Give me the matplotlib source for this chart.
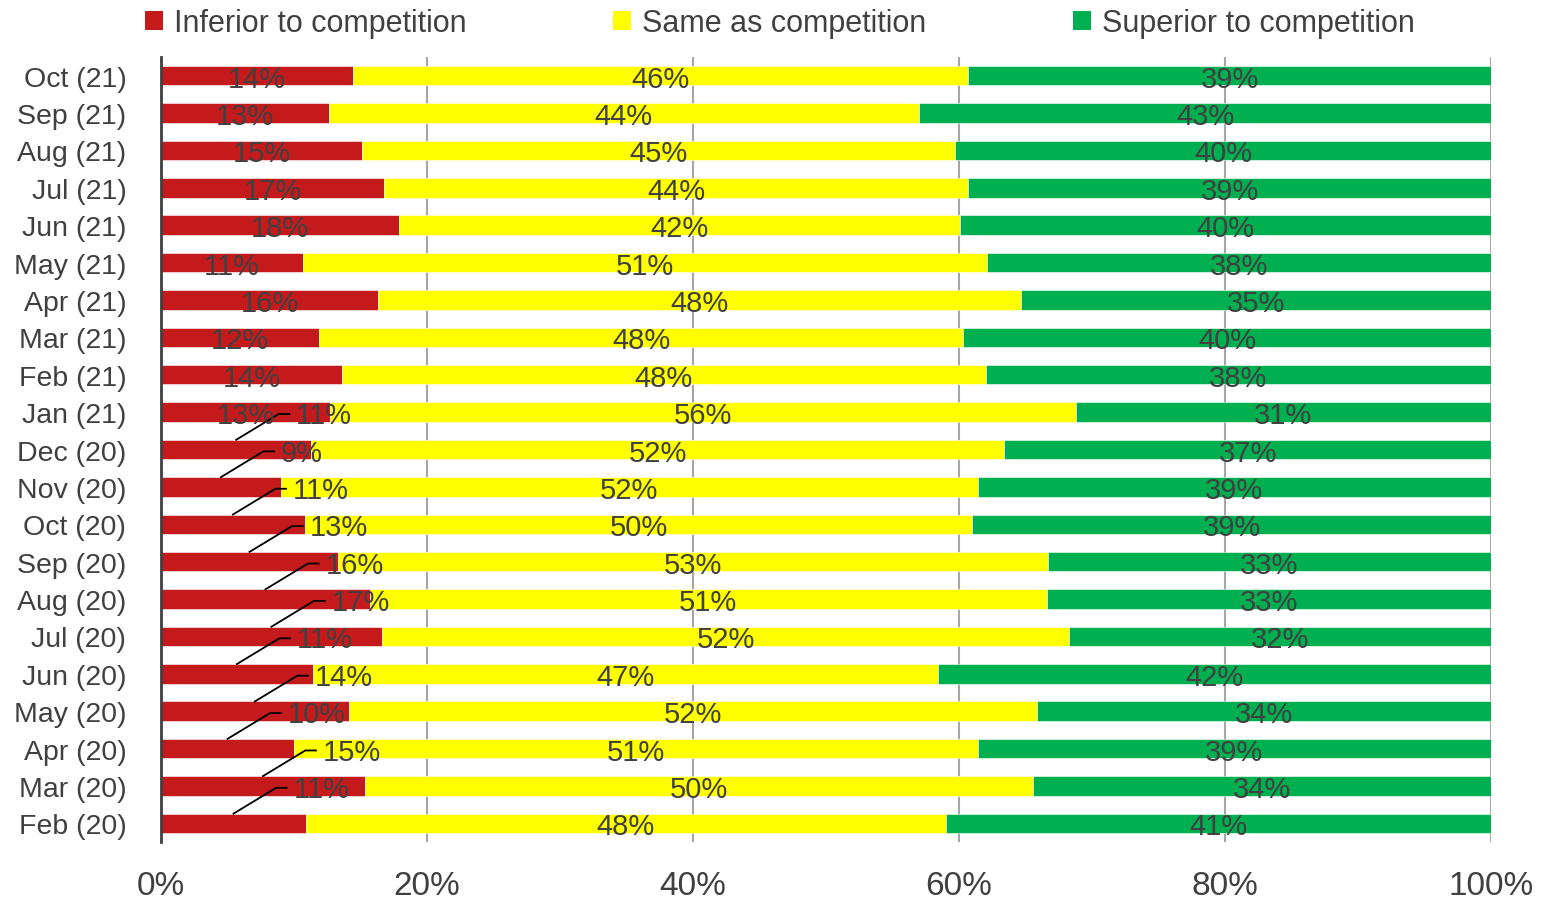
import numpy as np
import matplotlib.pyplot as plt
from matplotlib.patches import Patch

# months, bottom row first
months = ['Feb (20)', 'Mar (20)', 'Apr (20)', 'May (20)', 'Jun (20)', 'Jul (20)',
          'Aug (20)', 'Sep (20)', 'Oct (20)', 'Nov (20)', 'Dec (20)', 'Jan (21)',
          'Feb (21)', 'Mar (21)', 'Apr (21)', 'May (21)', 'Jun (21)', 'Jul (21)',
          'Aug (21)', 'Sep (21)', 'Oct (21)']

inferior = [10.9, 15.3, 10.0, 14.1, 11.4, 16.6, 15.7, 13.3, 10.8, 9.0, 11.3, 12.7,
            13.6, 11.9, 16.3, 10.7, 17.9, 16.8, 15.1, 12.6, 14.4]
same = [48.1, 50.3, 51.4, 51.8, 47.0, 51.7, 50.9, 53.4, 50.2, 52.4, 52.1, 56.1,
        48.4, 48.4, 48.4, 51.4, 42.2, 43.9, 44.6, 44.4, 46.3]
superior = [41.0, 34.4, 38.6, 34.1, 41.6, 31.7, 33.4, 33.3, 39.0, 38.6, 36.6, 31.2,
            38.0, 39.7, 35.3, 37.9, 39.9, 39.3, 40.3, 43.0, 39.3]

# red labels pulled out with a leader line (Feb 20 .. Dec 20)
n_leader = 11

series_names = ['Inferior to competition', 'Same as competition', 'Superior to competition']
colors = ['#C41A1B', '#FFFF00', '#00B050']
txt = '#404040'

plt.rcParams['font.family'] = ['Liberation Sans', 'DejaVu Sans']

fig = plt.figure(figsize=(15.5, 9.03), dpi=100)
ax = fig.add_axes([0.1039, 0.0664, 0.858, 0.8694])

y = np.arange(len(months))
h = 0.52
left = np.zeros(len(months))
for vals, c in zip([inferior, same, superior], colors):
    ax.barh(y, vals, left=left, height=h, color=c, edgecolor='white', linewidth=0.4, zorder=2)
    left = left + np.array(vals)

lab_fs = 21

# labels for yellow and green
left = np.array(inferior)
for vals in [same, superior]:
    for i, v in enumerate(vals):
        ax.text(left[i] + v / 2, y[i], f'{v:.0f}%', ha='center', va='center_baseline',
                fontsize=lab_fs, color=txt, zorder=4)
    left = left + np.array(vals)

# red labels
for i, v in enumerate(inferior):
    if i < n_leader:
        a = v / 2
        ax.plot([a, a + 3.2, a + 4.0], [y[i] + h / 2, y[i] + 0.95, y[i] + 0.95],
                color='black', lw=1.3, zorder=3)
        ax.text(a + 4.5, y[i] + 1.0, f'{v:.0f}%', ha='left', va='center_baseline',
                fontsize=lab_fs, color=txt, zorder=4)
    else:
        ax.text(v / 2, y[i], f'{v:.0f}%', ha='center', va='center_baseline',
                fontsize=lab_fs, color=txt, zorder=4)

ax.set_xlim(0, 100)
ax.set_ylim(-0.5, len(months) - 0.5)
ax.set_yticks(y)
ax.set_yticklabels(months, fontsize=20.5, color=txt)
ax.set_xticks(np.arange(0, 101, 20))
ax.set_xticklabels([f'{t}%' for t in range(0, 101, 20)], fontsize=24, color=txt)
ax.tick_params(axis='both', length=0)
ax.tick_params(axis='x', pad=20)
ax.tick_params(axis='y', pad=25)
ax.xaxis.grid(True, color='#A6A6A6', lw=1.5, zorder=0)
ax.set_axisbelow(True)
for s in ['top', 'right', 'bottom']:
    ax.spines[s].set_visible(False)
ax.spines['left'].set_color('#404040')
ax.spines['left'].set_linewidth(2)
ax.spines['left'].set_zorder(5)

handles = [Patch(facecolor=c, label=n) for c, n in zip(colors, series_names)]
fig.legend(handles=handles, loc='center', bbox_to_anchor=(0.503, 0.973), ncol=3,
           frameon=False, fontsize=22, handlelength=0.6, handleheight=0.6,
           handletextpad=0.35, columnspacing=4.8, labelcolor=txt)

fig.savefig('out.png', dpi=100)
